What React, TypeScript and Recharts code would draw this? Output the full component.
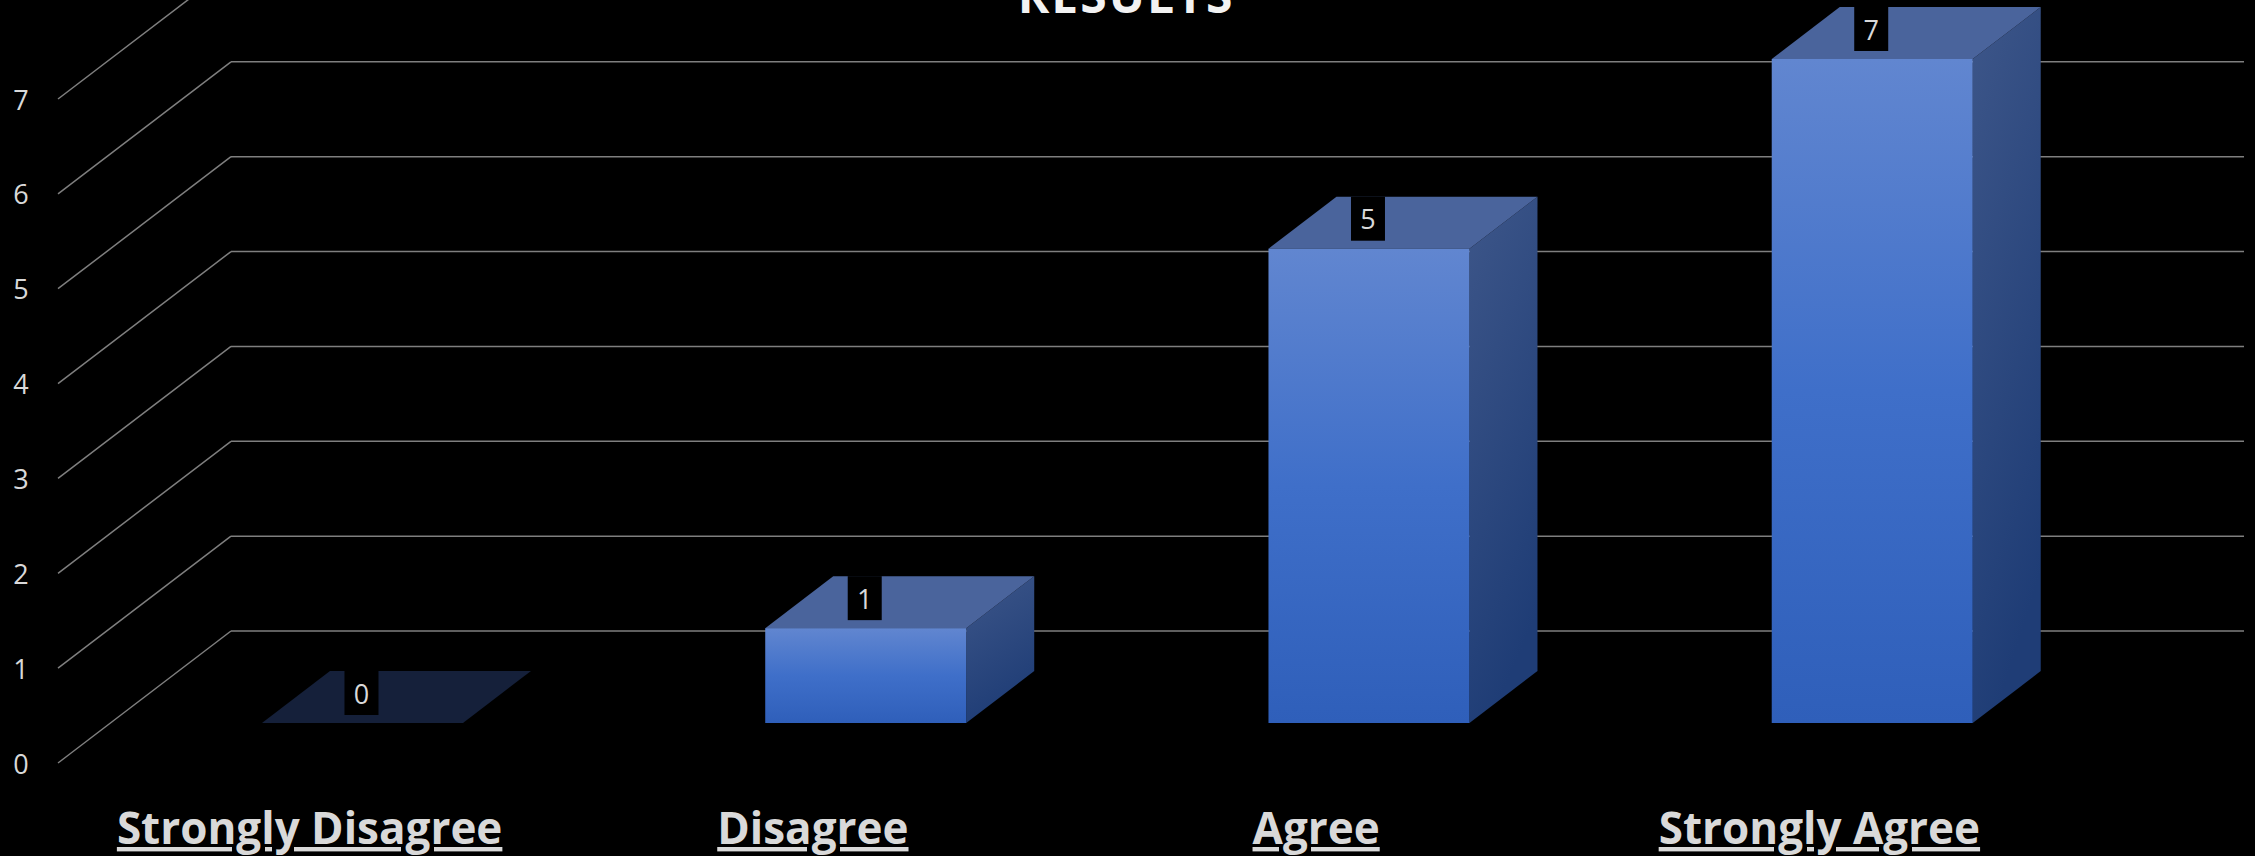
import { BarChart, Bar, XAxis, YAxis, CartesianGrid } from "recharts"

const categories = ["Strongly Disagree", "Disagree", "Agree", "Strongly Agree"]
const counts = [0, 1, 5, 7]
const yTicks = [0, 1, 2, 3, 4, 5, 6, 7]
const title = "RESULTS"

const rows = categories.map((category, i) => ({ category, count: counts[i] }))

// offsets of the fake 3d planes, measured from the plane of the bar fronts
const FRONT = { dx: -53, dy: 40 }
const BACK = { dx: 120, dy: -92 }
const DEPTH = { dx: 68, dy: -52 }

const GRID = "#7f7f7f"
const TEXT = "#d9d9d9"
const FONT = "'Open Sans', sans-serif"

function Box3D(props: any) {
    const { x, y, width, height, index } = props
    const { dx, dy } = DEPTH
    const top = `M${x},${y} L${x + width},${y} L${x + width + dx},${y + dy} L${x + dx},${y + dy} Z`
    if (!height) return <path d={top} fill="#15203a" />
    const side = `M${x + width},${y} L${x + width + dx},${y + dy} L${x + width + dx},${y + height + dy} L${x + width},${y + height} Z`
    return (
        <g>
            <defs>
                <linearGradient id={`front${index}`} x1="0" y1="0" x2="0" y2="1">
                    <stop offset="0" stopColor="#6186d0" />
                    <stop offset="0.5" stopColor="#3f6fc9" />
                    <stop offset="1" stopColor="#2f5fba" />
                </linearGradient>
                <linearGradient id={`side${index}`} x1="0" y1="0" x2="0.3" y2="1">
                    <stop offset="0" stopColor="#3d5689" />
                    <stop offset="1" stopColor="#1f3d76" />
                </linearGradient>
            </defs>
            <path d={side} fill={`url(#side${index})`} />
            <path d={top} fill="#4a649c" />
            <rect x={x} y={y} width={width} height={height} fill={`url(#front${index})`} />
        </g>
    )
}

function ValueLabel(props: any) {
    const { x, y, width, value } = props
    const cx = x + width / 2 - 1
    return (
        <g>
            <rect x={cx - 17} y={y - 52} width={34} height={44} fill="#000" />
            <text x={cx} y={y - 30} textAnchor="middle" dominantBaseline="central"
                fill={TEXT} fontSize={27} fontFamily={FONT}>
                {value}
            </text>
        </g>
    )
}

function WallTick(props: any) {
    const { x, y, payload } = props
    return (
        <g>
            <line x1={x + FRONT.dx} y1={y + FRONT.dy} x2={x + BACK.dx} y2={y + BACK.dy}
                stroke={GRID} strokeWidth={1.5} />
            <text x={x - 90} y={y + FRONT.dy} textAnchor="middle" dominantBaseline="central"
                fill={TEXT} fontSize={27} fontFamily={FONT}>
                {payload.value}
            </text>
        </g>
    )
}

function CategoryTick(props: any) {
    const { x, y, payload } = props
    return (
        <text x={x + FRONT.dx} y={y + 121} textAnchor="middle" fill={TEXT}
            fontSize={44} fontWeight="bold" fontFamily={FONT}
            style={{ textDecoration: "underline" }}>
            {payload.value}
        </text>
    )
}

export default function App() {
    return (
        <div style={{ position: "absolute", left: 0, top: 0, width: 2255, height: 856, background: "#000" }}>
            <BarChart
                width={2255}
                height={856}
                data={rows}
                margin={{ top: 59, right: 131, bottom: 0, left: 0 }}
                barCategoryGap="30%"
            >
                <CartesianGrid
                    vertical={false}
                    horizontal={(p: any) => (
                        <line key={p.key} x1={p.x1 + BACK.dx} y1={p.y1 + BACK.dy}
                            x2={p.x2 + BACK.dx} y2={p.y2 + BACK.dy}
                            stroke={GRID} strokeWidth={1.5} />
                    )}
                />
                <XAxis dataKey="category" height={133} axisLine={false} tickLine={false}
                    tickSize={0} tickMargin={0} interval={0} tick={<CategoryTick />} />
                <YAxis domain={[0, 7]} ticks={yTicks} width={111} axisLine={false} tickLine={false}
                    tickSize={0} tickMargin={0} interval={0} tick={<WallTick />} />
                <Bar dataKey="count" shape={<Box3D />} label={<ValueLabel />} isAnimationActive={false} />
            </BarChart>
            <svg width={2255} height={856} style={{ position: "absolute", left: 0, top: 0, pointerEvents: "none" }}>
                <text x={1126} y={13} textAnchor="middle" fill="#f2f2f2" fontSize={48}
                    fontWeight="bold" fontFamily={FONT} letterSpacing={2}>
                    {title}
                </text>
            </svg>
        </div>
    )
}
